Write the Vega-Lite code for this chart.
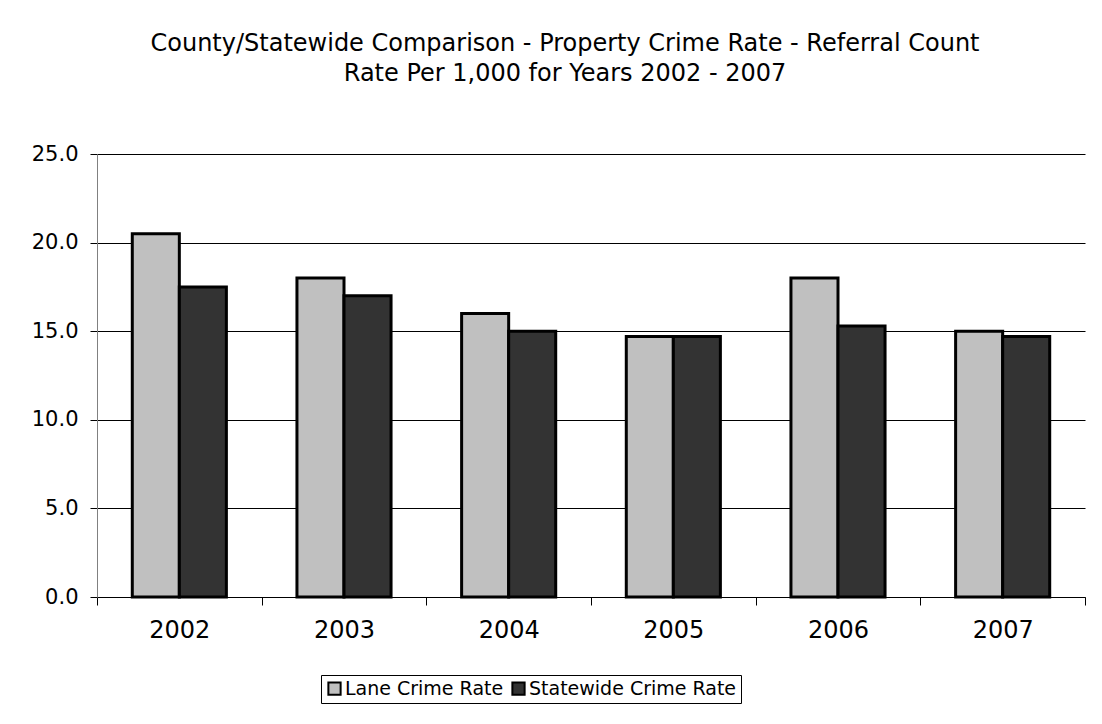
{
  "$schema": "https://vega.github.io/schema/vega-lite/v6.json",
  "width": 988,
  "height": 443,
  "autosize": {"type": "none"},
  "padding": {"left": 97, "top": 154, "right": 17, "bottom": 127},
  "background": "white",
  "title": {
    "text": ["County/Statewide Comparison - Property Crime Rate - Referral Count", "Rate Per 1,000 for Years 2002 - 2007"],
    "font": "DejaVu Sans",
    "fontSize": 24,
    "fontWeight": "normal",
    "color": "black",
    "lineHeight": 30,
    "anchor": "middle",
    "frame": "group",
    "dx": -26,
    "offset": 57
  },
  "data": {
    "values": [
      {"year": "2002", "series": "Lane Crime Rate", "rate": 20.5},
      {"year": "2002", "series": "Statewide Crime Rate", "rate": 17.5},
      {"year": "2003", "series": "Lane Crime Rate", "rate": 18.0},
      {"year": "2003", "series": "Statewide Crime Rate", "rate": 17.0},
      {"year": "2004", "series": "Lane Crime Rate", "rate": 16.0},
      {"year": "2004", "series": "Statewide Crime Rate", "rate": 15.0},
      {"year": "2005", "series": "Lane Crime Rate", "rate": 14.7},
      {"year": "2005", "series": "Statewide Crime Rate", "rate": 14.7},
      {"year": "2006", "series": "Lane Crime Rate", "rate": 18.0},
      {"year": "2006", "series": "Statewide Crime Rate", "rate": 15.3},
      {"year": "2007", "series": "Lane Crime Rate", "rate": 15.0},
      {"year": "2007", "series": "Statewide Crime Rate", "rate": 14.7}
    ]
  },
  "mark": {"type": "bar", "stroke": "black", "strokeWidth": 3},
  "encoding": {
    "x": {
      "field": "year",
      "type": "nominal",
      "scale": {"paddingInner": 0, "paddingOuter": 0},
      "axis": {
        "title": null,
        "labelAngle": 0,
        "tickBand": "extent",
        "domainColor": "black",
        "tickColor": "black",
        "tickSize": 8,
        "labelPadding": 13,
        "labelFont": "DejaVu Sans",
        "labelFontSize": 24,
        "labelColor": "black"
      }
    },
    "xOffset": {
      "field": "series",
      "type": "nominal",
      "scale": {"paddingInner": 0, "paddingOuter": 0.75}
    },
    "y": {
      "field": "rate",
      "type": "quantitative",
      "scale": {"domain": [0, 25], "nice": false},
      "axis": {
        "title": null,
        "values": [0, 5, 10, 15, 20, 25],
        "format": ".1f",
        "grid": true,
        "gridColor": "black",
        "gridWidth": 1,
        "gridOpacity": 1,
        "domainColor": "#808080",
        "tickColor": "black",
        "tickSize": 7,
        "labelPadding": 12,
        "labelFont": "DejaVu Sans",
        "labelFontSize": 21,
        "labelColor": "black"
      }
    },
    "fill": {
      "field": "series",
      "type": "nominal",
      "scale": {"domain": ["Lane Crime Rate", "Statewide Crime Rate"], "range": ["#C0C0C0", "#333333"]},
      "legend": {
        "title": null,
        "orient": "none",
        "legendX": 224,
        "legendY": 521,
        "direction": "horizontal",
        "strokeColor": "black",
        "padding": 4,
        "symbolType": "square",
        "symbolSize": 150,
        "symbolStrokeColor": "black",
        "symbolStrokeWidth": 2,
        "symbolOpacity": 1,
        "labelFont": "DejaVu Sans",
        "labelFontSize": 19,
        "labelColor": "black",
        "labelLimit": 0,
        "labelOffset": 1,
        "columnPadding": 4
      }
    }
  },
  "config": {
    "view": {"stroke": null}
  }
}
